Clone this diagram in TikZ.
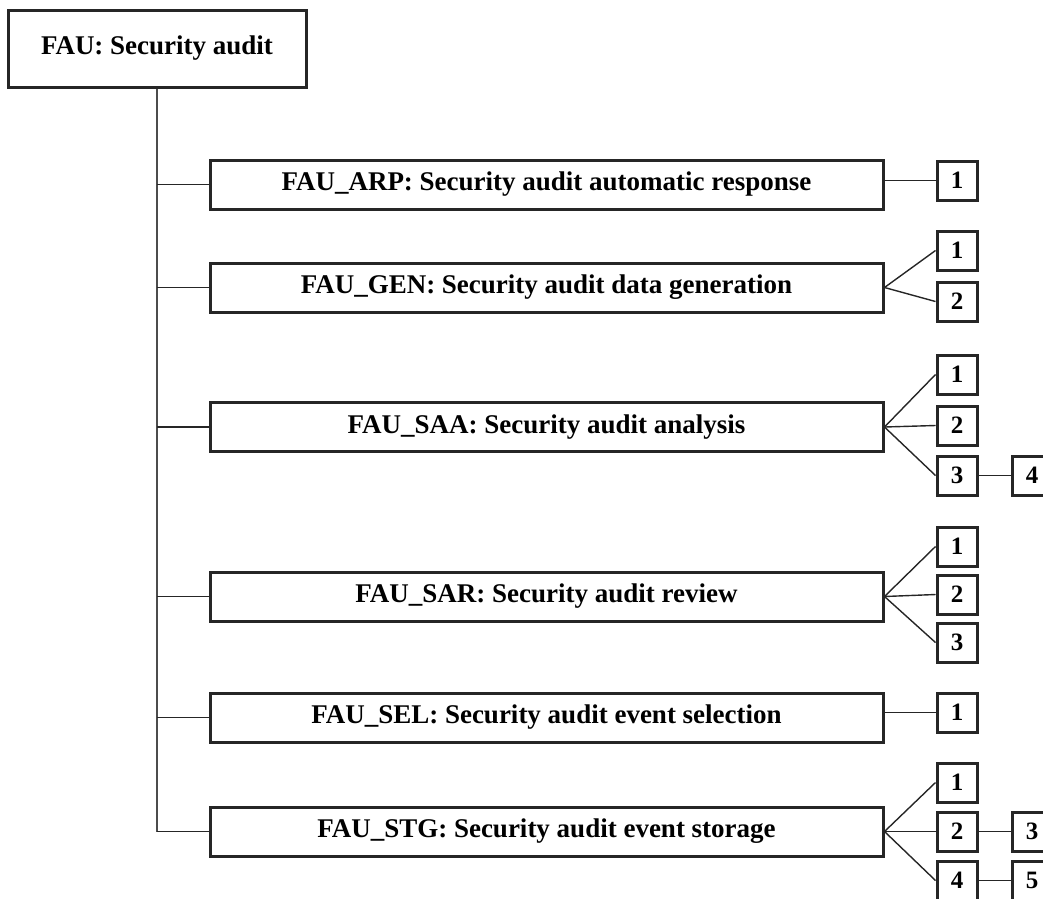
\documentclass[tikz,border=0pt]{standalone}
\usepackage{fontspec}
\setmainfont{Liberation Serif}
\tikzset{
  every picture/.style={
    line width=3pt
  },
  fambox/.style={
    draw=black!85, minimum width=673pt, minimum height=49pt,
    inner sep=0pt, font=\fontsize{27}{32}\selectfont\bfseries
  },
  compbox/.style={
    draw=black!85, minimum width=40pt, minimum height=39pt,
    inner sep=0pt, font=\fontsize{25}{30}\selectfont\bfseries
  },
  link/.style={
    line width=1.4pt, black!85
  }
}

\begin{document}
\begin{tikzpicture}[x=1pt,y=-1pt]
    \useasboundingbox (0,0) rectangle (1043,898);
    \node [fambox,minimum width=298pt,minimum height=77pt] (fau) at (157,48.5) {FAU: Security audit};
    % families
    \node [fambox] (arp) at (546.5,184.5) {FAU\_ARP: Security audit automatic response};
    \node [fambox] (gen) at (546.5,287.5) {FAU\_GEN: Security audit data generation};
    \node [fambox] (saa) at (546.5,427) {FAU\_SAA: Security audit analysis};
    \node [fambox] (sar) at (546.5,596.5) {FAU\_SAR: Security audit review};
    \node [fambox] (sel) at (546.5,717.5) {FAU\_SEL: Security audit event selection};
    \node [fambox] (stg) at (546.5,831.5) {FAU\_STG: Security audit event storage};
    % components
    \node [compbox] (a1) at (957,180.5) {1};
    \node [compbox] (g1) at (957,250.5) {1};
    \node [compbox] (g2) at (957,301.5) {2};
    \node [compbox] (sa1) at (957,374.5) {1};
    \node [compbox] (sa2) at (957,425.5) {2};
    \node [compbox] (sa3) at (957,475.5) {3};
    \node [compbox] (sa4) at (1032,475.5) {4};
    \node [compbox] (sr1) at (957,546.5) {1};
    \node [compbox] (sr2) at (957,594.5) {2};
    \node [compbox] (sr3) at (957,642.5) {3};
    \node [compbox] (se1) at (957,712.5) {1};
    \node [compbox] (st1) at (957,782.5) {1};
    \node [compbox] (st2) at (957,831.5) {2};
    \node [compbox] (st3) at (1032,831.5) {3};
    \node [compbox] (st4) at (957,880.5) {4};
    \node [compbox] (st5) at (1032,880.5) {5};
    % tree
    \draw [link,black!70] (fau.south) -- (fau.south |- stg.west);
    \draw [link] (fau.south |- arp.west) -- (arp.west);
    \draw [link] (fau.south |- gen.west) -- (gen.west);
    \draw [link] (fau.south |- saa.west) -- (saa.west);
    \draw [link] (fau.south |- sar.west) -- (sar.west);
    \draw [link] (fau.south |- sel.west) -- (sel.west);
    \draw [link] (fau.south |- stg.west) -- (stg.west);
    \draw [link] (arp.east |- a1.west) -- (a1.west);
    \draw [link] (gen.east) -- (g1.west);
    \draw [link] (gen.east) -- (g2.west);
    \draw [link] (saa.east) -- (sa1.west);
    \draw [link] (saa.east) -- (sa2.west);
    \draw [link] (saa.east) -- (sa3.west);
    \draw [link] (sa3) -- (sa4);
    \draw [link] (sar.east) -- (sr1.west);
    \draw [link] (sar.east) -- (sr2.west);
    \draw [link] (sar.east) -- (sr3.west);
    \draw [link] (sel.east |- se1.west) -- (se1.west);
    \draw [link] (stg.east) -- (st1.west);
    \draw [link] (stg.east) -- (st2.west);
    \draw [link] (stg.east) -- (st4.west);
    \draw [link] (st2) -- (st3);
    \draw [link] (st4) -- (st5);
  \end{tikzpicture}
\end{document}
